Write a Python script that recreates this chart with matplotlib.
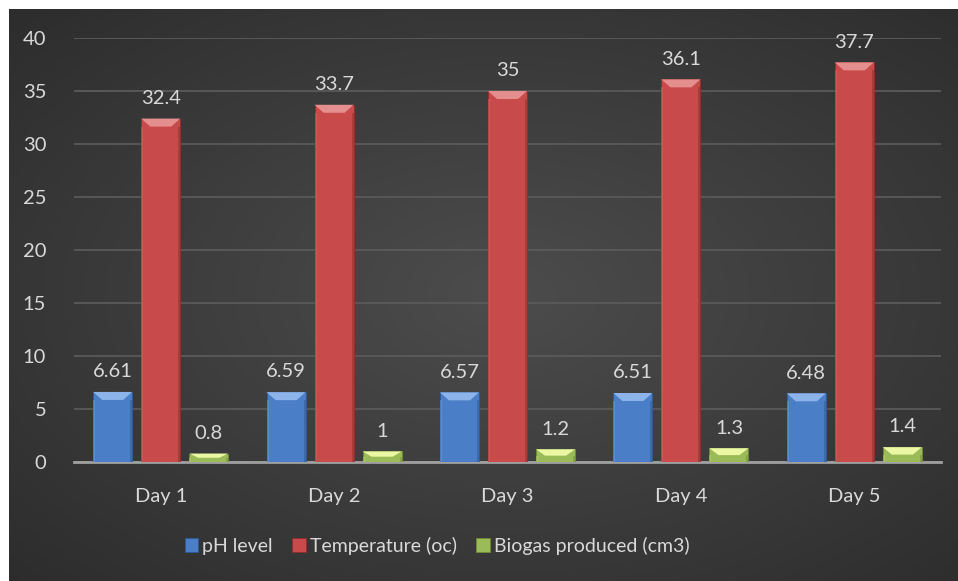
import numpy as np
import matplotlib
matplotlib.use("Agg")
import matplotlib.pyplot as plt
from matplotlib.patches import Polygon, Rectangle

plt.rcParams['font.family'] = ['Lato', 'DejaVu Sans']

days = ["Day 1", "Day 2", "Day 3", "Day 4", "Day 5"]
ph_level = [6.61, 6.59, 6.57, 6.51, 6.48]
temperature = [32.4, 33.7, 35, 36.1, 37.7]
biogas = [0.8, 1, 1.2, 1.3, 1.4]
series_names = ["pH level", "Temperature (oc)", "Biogas produced (cm3)"]
yticks = [0, 5, 10, 15, 20, 25, 30, 35, 40]

TXT = "#d9d9d9"
W, H = 958, 581

fig = plt.figure(figsize=(W / 100, H / 100), dpi=100)
fig.patch.set_facecolor("white")

# dark chart area with soft radial light in the middle
bg = fig.add_axes([9 / W, 0, (W - 9) / W, (H - 9) / H])
bg.set_axis_off()
yy, xx = np.mgrid[0:1:300j, 0:1:500j]
r = np.sqrt(((xx - 0.52) / 0.75) ** 2 + ((yy - 0.5) / 0.75) ** 2)
shade = np.clip(0.30 - 0.13 * r, 0.165, 0.30)
bg.imshow(np.dstack([shade] * 3), aspect="auto", extent=(0, 1, 0, 1),
          interpolation="bilinear")

ax = fig.add_axes([74 / W, (H - 462) / H, (941 - 74) / W, (462 - 38) / H])
ax.patch.set_alpha(0)
ax.set_xlim(-0.5, len(days) - 0.5)
ax.set_ylim(0, 40)
ax.set_yticks(yticks)
ax.yaxis.grid(True, color="#5a5a5a", linewidth=1.3)
ax.set_axisbelow(True)
for s in ["top", "right", "left"]:
    ax.spines[s].set_visible(False)
ax.spines["bottom"].set_color("#a0a0a0")
ax.spines["bottom"].set_linewidth(2)
ax.tick_params(axis="both", length=0, colors=TXT, labelsize=14.5)
ax.tick_params(axis="y", pad=20)
ax.tick_params(axis="x", pad=19)
ax.set_xticks(range(len(days)))
ax.set_xticklabels(days)

x = np.arange(len(days))
width = 0.225
step = 0.277
styles = [
    ("#4a7ec6", "#8db4ea", "#2e5a96", "#6f9ad6"),
    ("#c94a4a", "#e58e8e", "#8e2c2c", "#d86262"),
    ("#9bbb59", "#ecf7a4", "#6f8c35", "#b4cf70"),
]

# pixel size of the bevel converted to data units
px_x = (len(days)) / (941 - 74)
px_y = 40 / (462 - 38)
bev_x = 9 * px_x
bev_y = 8 * px_y

handles = []
for i, (vals, name) in enumerate(zip([ph_level, temperature, biogas], series_names)):
    body, light, dark, side = styles[i]
    bars = ax.bar(x + (i - 1) * step, vals, width, color=body,
                  edgecolor=dark, linewidth=0.6, label=name, zorder=3)
    handles.append(bars)
    for b, v in zip(bars, vals):
        bx, bw = b.get_x(), b.get_width()
        by = min(bev_y, v * 0.5)
        bxx = min(bev_x, bw * 0.3)
        # bevel top and sides
        ax.add_patch(Polygon([(bx, v), (bx + bw, v), (bx + bw - bxx, v - by), (bx + bxx, v - by)],
                             closed=True, facecolor=light, edgecolor="none", zorder=4))
        ax.add_patch(Rectangle((bx + bw - 2 * px_x, 0), 2 * px_x, v - by,
                               facecolor=dark, edgecolor="none", alpha=0.5, zorder=4))
        ax.add_patch(Rectangle((bx, 0), 2 * px_x, v - by,
                               facecolor=side, edgecolor="none", alpha=0.5, zorder=4))
        ax.text(b.get_x() + bw / 2, v + 1.1, f"{v:g}", ha="center", va="bottom",
                color=TXT, fontsize=14.5, zorder=5)

leg = fig.legend(handles=handles, loc="center", bbox_to_anchor=(437 / W, 1 - 546 / H),
                 ncol=3, frameon=False, fontsize=14, handlelength=0.7, handleheight=0.7,
                 handletextpad=0.2, columnspacing=1.0, labelcolor=TXT)

fig.savefig("out.png", dpi=100, facecolor=fig.get_facecolor())
